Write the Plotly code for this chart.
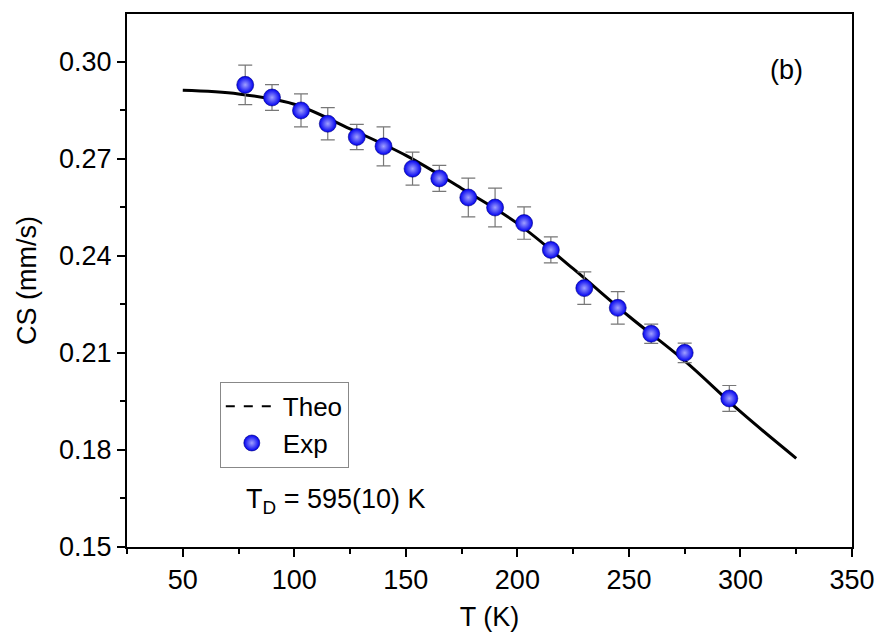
import plotly.graph_objects as go

# Experimental data
T_exp = [78, 90, 103, 115, 128, 140, 153, 165, 178, 190, 203, 215, 230, 245, 260, 275, 295]
CS_exp = [0.2928, 0.2889, 0.2849, 0.2808, 0.2767, 0.2738, 0.2669, 0.2639, 0.2580, 0.2549,
          0.2501, 0.2418, 0.2300, 0.2239, 0.2159, 0.2100, 0.1959]
CS_err = [0.0061, 0.0040, 0.0051, 0.0050, 0.0039, 0.0060, 0.0051, 0.0040, 0.0060, 0.0060,
          0.0050, 0.0040, 0.0050, 0.0050, 0.0030, 0.0030, 0.0040]

# Theoretical curve
T_theo = [50, 75, 100, 125, 150, 175, 200, 225, 250, 275, 300, 325]
CS_theo = [0.2911, 0.2900, 0.2868, 0.2792, 0.2710, 0.2608, 0.2500, 0.2360, 0.2213, 0.2075, 0.1918, 0.1774]

x_ticks = [50, 100, 150, 200, 250, 300, 350]
y_ticks = [0.15, 0.18, 0.21, 0.24, 0.27, 0.30]

FONT = "Liberation Sans, Arial, sans-serif"
FS = 27

fig = go.Figure()

fig.add_trace(go.Scatter(
    x=T_theo, y=CS_theo, mode="lines", line=dict(color="black", width=3, shape="spline"),
    showlegend=False, hoverinfo="skip"))

# legend proxy for the theory curve
fig.add_trace(go.Scatter(
    x=[None], y=[None], mode="lines", name="Theo",
    line=dict(color="black", width=2, dash="dash")))

fig.add_trace(go.Scatter(
    x=T_exp, y=CS_exp, mode="markers", name="Exp",
    error_y=dict(type="data", array=CS_err, visible=True, color="#777777", thickness=1.2, width=7),
    marker=dict(size=17, color="#0000f0",
                gradient=dict(type="radial", color="#a0a0ff"),
                line=dict(color="#000080", width=0.6))))

fig.add_annotation(text="(b)", x=320.5, y=0.2975, xref="x", yref="y", showarrow=False,
                   font=dict(family=FONT, size=FS, color="black"))
fig.add_annotation(text="T<sub>D</sub> = 595(10) K", x=0.162, y=0.086, xref="paper", yref="paper",
                   xanchor="left", yanchor="middle", showarrow=False,
                   font=dict(family=FONT, size=FS, color="black"))

fig.update_layout(
    width=887, height=639,
    margin=dict(l=127, r=32, t=14, b=90),
    paper_bgcolor="white", plot_bgcolor="white",
    font=dict(family=FONT, size=FS, color="black"),
    legend=dict(x=0.128, y=0.31, xanchor="left", yanchor="top",
                bordercolor="#888888", borderwidth=1, bgcolor="white",
                font=dict(family=FONT, size=26), itemwidth=52, tracegroupgap=0),
)

fig.update_xaxes(
    range=[25, 350], tickvals=x_ticks, ticktext=[str(v) for v in x_ticks],
    showline=True, linecolor="black", linewidth=2, mirror=True,
    ticks="outside", ticklen=8, tickwidth=2, tickcolor="black",
    minor=dict(ticks="outside", ticklen=5, tickwidth=2, tickcolor="black", dtick=25, tick0=0),
    showgrid=False, zeroline=False,
    tickfont=dict(family=FONT, size=FS),
    title=dict(text="T (K)", font=dict(family=FONT, size=FS), standoff=13),
)
fig.update_yaxes(
    range=[0.15, 0.3147], tickvals=y_ticks, ticktext=[f"{v:.2f}" for v in y_ticks],
    showline=True, linecolor="black", linewidth=2, mirror=True,
    ticks="outside", ticklen=8, tickwidth=2, tickcolor="black",
    minor=dict(ticks="outside", ticklen=5, tickwidth=2, tickcolor="black", dtick=0.015, tick0=0.15),
    showgrid=False, zeroline=False,
    tickfont=dict(family=FONT, size=FS),
    title=dict(text="CS (mm/s)", font=dict(family=FONT, size=FS), standoff=15),
)

fig.write_html("out.html", config={"displayModeBar": False},
               post_script="document.body.style.margin='0';document.body.style.overflow='hidden';")
